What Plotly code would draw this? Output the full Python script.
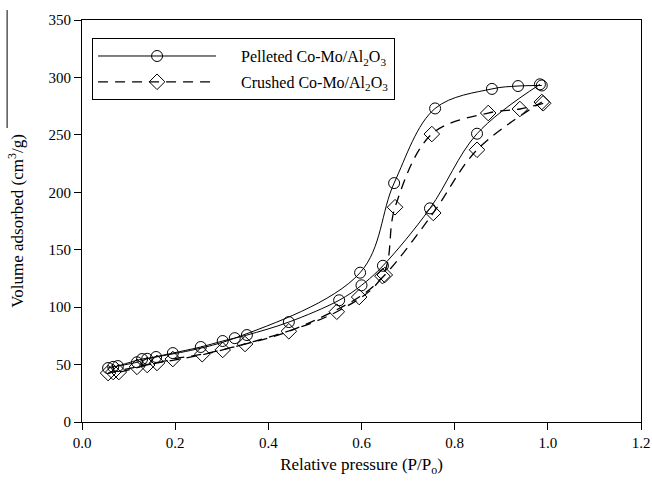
import plotly.graph_objects as go

# Pelleted Co-Mo/Al2O3 (circles)
pel_ads_x = [0.056, 0.067, 0.118, 0.140, 0.195, 0.255, 0.302, 0.354, 0.444, 0.552, 0.600, 0.646, 0.747, 0.848, 0.983]
pel_ads_y = [47.0, 48.0, 52.0, 55.0, 60.0, 65.3, 70.5, 75.7, 87.0, 106.0, 119.0, 136.0, 186.0, 251.0, 294.0]
pel_des_x = [0.987, 0.936, 0.880, 0.758, 0.670, 0.597, 0.328, 0.159, 0.129, 0.077]
pel_des_y = [293.0, 292.5, 290.0, 273.0, 208.0, 130.0, 73.0, 56.6, 54.8, 48.7]

# Crushed Co-Mo/Al2O3 (diamonds)
cru_ads_x = [0.056, 0.118, 0.161, 0.195, 0.258, 0.350, 0.444, 0.595, 0.650, 0.754, 0.848, 0.987]
cru_ads_y = [42.6, 48.0, 51.4, 54.8, 59.0, 67.9, 79.0, 108.8, 128.0, 182.0, 237.0, 278.6]
cru_des_x = [0.990, 0.940, 0.872, 0.751, 0.672, 0.645, 0.547, 0.302, 0.140, 0.079, 0.067]
cru_des_y = [277.5, 272.5, 269.0, 250.7, 187.0, 127.0, 96.0, 62.7, 49.6, 43.5, 43.5]

x_ticks = [0.0, 0.2, 0.4, 0.6, 0.8, 1.0, 1.2]
y_ticks = [0, 50, 100, 150, 200, 250, 300, 350]

FONT = "Liberation Serif, Times New Roman, serif"
PAD = "\u00a0" * 5

fig = go.Figure()

fig.add_trace(go.Scatter(
    x=pel_ads_x, y=pel_ads_y, mode="lines+markers",
    name=PAD + "Pelleted Co-Mo/Al<sub>2</sub>O<sub>3</sub>", legendgroup="pel",
    line=dict(color="black", width=1, shape="spline", smoothing=1.0),
    marker=dict(symbol="circle-open", size=11, color="black", line=dict(width=1)),
))
fig.add_trace(go.Scatter(
    x=pel_des_x, y=pel_des_y, mode="lines+markers", showlegend=False, legendgroup="pel",
    line=dict(color="black", width=1, shape="spline", smoothing=1.0),
    marker=dict(symbol="circle-open", size=11, color="black", line=dict(width=1)),
))
fig.add_trace(go.Scatter(
    x=cru_ads_x, y=cru_ads_y, mode="lines+markers",
    name=PAD + "Crushed Co-Mo/Al<sub>2</sub>O<sub>3</sub>", legendgroup="cru",
    line=dict(color="black", width=1.3, dash="10px,7px", shape="spline", smoothing=1.0),
    marker=dict(symbol="diamond-open", size=12, color="black", line=dict(width=1)),
))
fig.add_trace(go.Scatter(
    x=cru_des_x, y=cru_des_y, mode="lines+markers", showlegend=False, legendgroup="cru",
    line=dict(color="black", width=1.3, dash="10px,7px", shape="spline", smoothing=1.0),
    marker=dict(symbol="diamond-open", size=12, color="black", line=dict(width=1)),
))

axis_common = dict(
    showgrid=False, zeroline=False, showline=True, linecolor="black", linewidth=1,
    ticks="outside", ticklen=7, tickcolor="black", mirror=True, automargin=False,
    tickfont=dict(family=FONT, size=15, color="black"),
)

fig.update_layout(
    width=652, height=485,
    margin=dict(l=82, r=11, t=20, b=63),
    paper_bgcolor="white", plot_bgcolor="white",
    font=dict(family=FONT, color="black", size=15),
    xaxis=dict(range=[0, 1.2], tickvals=x_ticks, tickformat=".1f",
               title=dict(text="Relative pressure (P/P<sub>o</sub>)", font=dict(family=FONT, size=17), standoff=8),
               **axis_common),
    yaxis=dict(range=[0, 350], tickvals=y_ticks,
               title=dict(text="Volume adsorbed (cm<sup>3</sup>/g)", font=dict(family=FONT, size=17), standoff=20),
               **axis_common),
    legend=dict(x=0.018, y=0.955, xanchor="left", yanchor="top",
                bordercolor="black", borderwidth=1, bgcolor="white",
                font=dict(family=FONT, size=16), itemwidth=118,
                tracegroupgap=2),
    showlegend=True,
)

fig.add_shape(type="line", xref="paper", yref="paper",
              x0=-0.134, x1=-0.134, y0=(422 - 10) / 402, y1=(422 - 128) / 402,
              line=dict(color="black", width=1))

fig.write_html("out.html", config={"displayModeBar": False},
               post_script="document.body.style.margin='0px';")
